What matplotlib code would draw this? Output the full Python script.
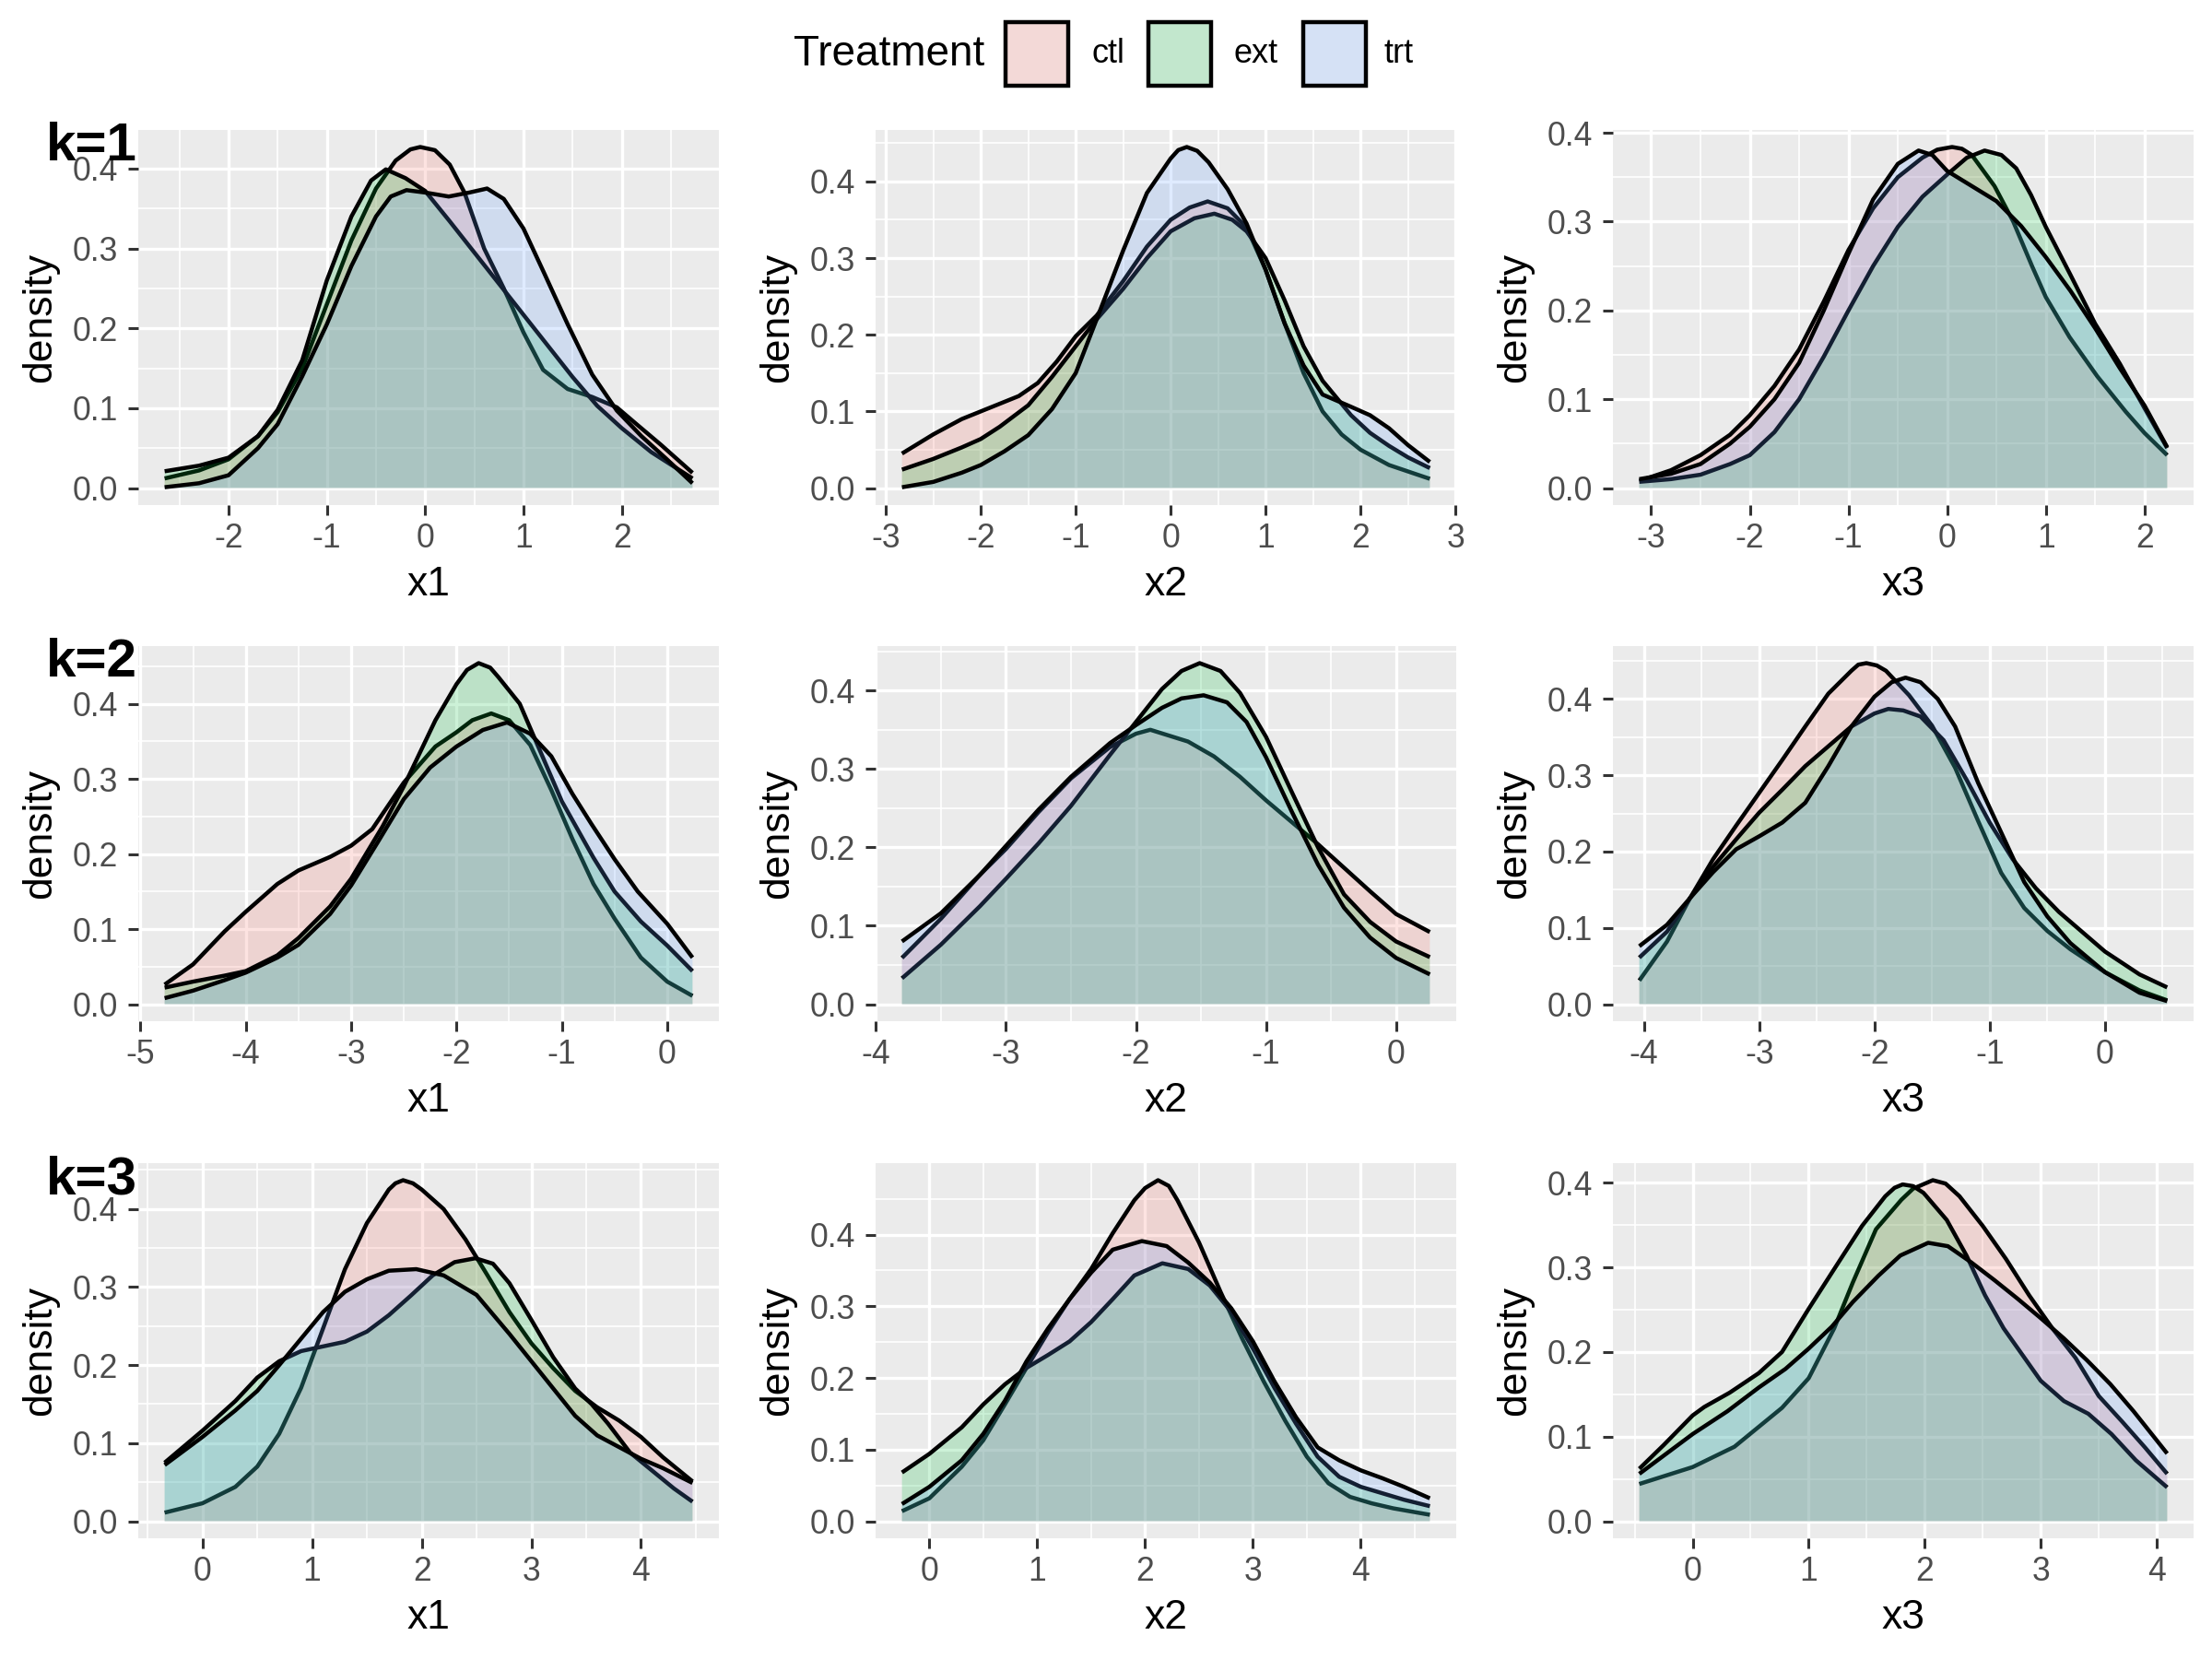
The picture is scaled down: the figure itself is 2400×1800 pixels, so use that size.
import matplotlib
matplotlib.use("Agg")
import matplotlib.pyplot as plt
from matplotlib.patches import Rectangle
from matplotlib.ticker import MultipleLocator, FormatStrFormatter
from matplotlib.colors import to_rgb

plt.rcParams['font.family'] = ['Liberation Sans', 'DejaVu Sans']
plt.rcParams['axes.unicode_minus'] = False

# ---------------- data ----------------
groups = ["ctl", "ext", "trt"]
group_colors = ["#F8766D", "#00BA38", "#619CFF"]
fill_alpha = 0.2
legend_title = "Treatment"
row_labels = ["k=1", "k=2", "k=3"]
col_labels = ["x1", "x2", "x3"]
y_label = "density"

# k=1, x1
k1_x1_ctl_x = [-2.65, -2.3, -2.0, -1.7, -1.5, -1.25, -1.0, -0.75, -0.5, -0.3, -0.15, -0.05, 0.1, 0.25, 0.4, 0.6, 0.8, 1.0, 1.2, 1.45, 1.7, 1.95, 2.15, 2.4, 2.72]
k1_x1_ctl_y = [0.012, 0.022, 0.036, 0.065, 0.095, 0.15, 0.23, 0.31, 0.375, 0.41, 0.424, 0.427, 0.423, 0.405, 0.37, 0.30, 0.25, 0.195, 0.148, 0.124, 0.114, 0.101, 0.080, 0.054, 0.019]
k1_x1_ext_x = [-2.65, -2.3, -2.0, -1.7, -1.5, -1.25, -1.0, -0.75, -0.55, -0.4, -0.2, 0.0, 0.25, 0.5, 0.75, 1.0, 1.25, 1.5, 1.75, 2.0, 2.3, 2.72]
k1_x1_ext_y = [0.021, 0.028, 0.038, 0.065, 0.098, 0.16, 0.26, 0.34, 0.385, 0.399, 0.388, 0.372, 0.334, 0.295, 0.256, 0.217, 0.178, 0.139, 0.103, 0.075, 0.045, 0.012]
k1_x1_trt_x = [-2.65, -2.3, -2.0, -1.7, -1.5, -1.25, -1.0, -0.75, -0.5, -0.35, -0.19, 0.0, 0.24, 0.45, 0.63, 0.8, 1.0, 1.2, 1.45, 1.7, 1.95, 2.2, 2.45, 2.72]
k1_x1_trt_y = [0.001, 0.006, 0.016, 0.05, 0.08, 0.14, 0.205, 0.278, 0.34, 0.365, 0.373, 0.37, 0.365, 0.37, 0.375, 0.362, 0.325, 0.272, 0.205, 0.142, 0.097, 0.065, 0.037, 0.006]

# k=1, x2
k1_x2_ctl_x = [-2.83, -2.5, -2.2, -2.0, -1.8, -1.6, -1.4, -1.2, -1.0, -0.78, -0.5, -0.25, 0.0, 0.2, 0.39, 0.6, 0.8, 1.0, 1.2, 1.4, 1.6, 1.8, 2.0, 2.3, 2.73]
k1_x2_ctl_y = [0.045, 0.07, 0.09, 0.10, 0.11, 0.12, 0.137, 0.165, 0.198, 0.225, 0.27, 0.315, 0.35, 0.366, 0.374, 0.365, 0.34, 0.285, 0.215, 0.15, 0.10, 0.07, 0.05, 0.03, 0.012]
k1_x2_ext_x = [-2.83, -2.5, -2.2, -2.0, -1.8, -1.5, -1.25, -1.0, -0.78, -0.5, -0.25, 0.0, 0.25, 0.46, 0.65, 0.8, 1.0, 1.2, 1.4, 1.6, 1.9, 2.1, 2.3, 2.5, 2.73]
k1_x2_ext_y = [0.024, 0.038, 0.053, 0.064, 0.08, 0.108, 0.145, 0.185, 0.22, 0.26, 0.30, 0.335, 0.352, 0.358, 0.35, 0.335, 0.30, 0.245, 0.185, 0.14, 0.095, 0.072, 0.055, 0.04, 0.026]
k1_x2_trt_x = [-2.83, -2.5, -2.2, -2.0, -1.75, -1.5, -1.25, -1.0, -0.78, -0.5, -0.25, 0.0, 0.08, 0.17, 0.28, 0.4, 0.6, 0.8, 1.0, 1.2, 1.4, 1.6, 1.9, 2.1, 2.3, 2.5, 2.73]
k1_x2_trt_y = [0.001, 0.008, 0.02, 0.03, 0.048, 0.069, 0.103, 0.15, 0.22, 0.31, 0.385, 0.43, 0.441, 0.445, 0.44, 0.425, 0.39, 0.345, 0.285, 0.215, 0.16, 0.122, 0.106, 0.095, 0.078, 0.056, 0.034]

# k=1, x3
k1_x3_ctl_x = [-3.12, -2.8, -2.5, -2.2, -2.0, -1.75, -1.5, -1.25, -1.0, -0.75, -0.5, -0.25, -0.1, 0.05, 0.15, 0.25, 0.48, 0.67, 0.86, 1.0, 1.24, 1.52, 1.81, 2.0, 2.23]
k1_x3_ctl_y = [0.008, 0.02, 0.037, 0.06, 0.082, 0.115, 0.156, 0.21, 0.268, 0.315, 0.35, 0.372, 0.381, 0.384, 0.382, 0.375, 0.34, 0.30, 0.25, 0.215, 0.17, 0.126, 0.086, 0.062, 0.037]
k1_x3_ext_x = [-3.12, -2.8, -2.5, -2.2, -2.0, -1.75, -1.5, -1.25, -1.0, -0.75, -0.5, -0.25, 0.0, 0.2, 0.38, 0.55, 0.7, 0.85, 1.0, 1.25, 1.5, 1.75, 2.0, 2.23]
k1_x3_ext_y = [0.007, 0.01, 0.015, 0.027, 0.037, 0.063, 0.10, 0.148, 0.20, 0.25, 0.294, 0.328, 0.353, 0.372, 0.380, 0.375, 0.36, 0.33, 0.294, 0.24, 0.185, 0.14, 0.09, 0.045]
k1_x3_trt_x = [-3.12, -2.8, -2.5, -2.2, -2.0, -1.75, -1.5, -1.25, -1.0, -0.75, -0.5, -0.29, -0.15, 0.0, 0.25, 0.5, 0.75, 1.0, 1.25, 1.5, 1.75, 2.0, 2.23]
k1_x3_trt_y = [0.01, 0.016, 0.027, 0.05, 0.069, 0.10, 0.141, 0.2, 0.264, 0.325, 0.365, 0.38, 0.375, 0.357, 0.34, 0.323, 0.295, 0.26, 0.222, 0.18, 0.135, 0.093, 0.046]

# k=2, x1
k2_x1_ctl_x = [-4.77, -4.5, -4.2, -4.0, -3.7, -3.5, -3.2, -3.0, -2.8, -2.5, -2.2, -2.0, -1.85, -1.67, -1.5, -1.3, -1.1, -0.9, -0.7, -0.5, -0.25, 0.0, 0.24]
k2_x1_ctl_y = [0.026, 0.053, 0.097, 0.123, 0.16, 0.178, 0.196, 0.211, 0.233, 0.295, 0.343, 0.362, 0.378, 0.387, 0.378, 0.345, 0.285, 0.22, 0.16, 0.114, 0.062, 0.030, 0.011]
k2_x1_ext_x = [-4.77, -4.5, -4.2, -4.0, -3.7, -3.5, -3.2, -3.0, -2.7, -2.5, -2.2, -2.0, -1.9, -1.79, -1.68, -1.6, -1.4, -1.2, -1.0, -0.7, -0.5, -0.25, 0.0, 0.24]
k2_x1_ext_y = [0.022, 0.03, 0.038, 0.044, 0.065, 0.088, 0.13, 0.167, 0.237, 0.29, 0.378, 0.426, 0.445, 0.454, 0.448, 0.435, 0.40, 0.335, 0.27, 0.195, 0.15, 0.11, 0.078, 0.044]
k2_x1_trt_x = [-4.77, -4.5, -4.2, -4.0, -3.7, -3.5, -3.2, -3.0, -2.75, -2.5, -2.25, -2.0, -1.75, -1.52, -1.3, -1.1, -0.9, -0.72, -0.5, -0.28, 0.0, 0.24]
k2_x1_trt_y = [0.008, 0.018, 0.032, 0.042, 0.062, 0.079, 0.12, 0.158, 0.215, 0.273, 0.315, 0.343, 0.365, 0.375, 0.36, 0.33, 0.28, 0.24, 0.193, 0.15, 0.107, 0.062]

# k=2, x2
k2_x2_ctl_x = [-3.8, -3.5, -3.2, -3.0, -2.75, -2.5, -2.2, -2.0, -1.89, -1.6, -1.4, -1.2, -1.0, -0.8, -0.6, -0.4, -0.2, 0.0, 0.26]
k2_x2_ctl_y = [0.059, 0.109, 0.165, 0.198, 0.245, 0.288, 0.328, 0.345, 0.350, 0.335, 0.316, 0.29, 0.26, 0.232, 0.204, 0.174, 0.144, 0.115, 0.092]
k2_x2_ext_x = [-3.8, -3.5, -3.2, -3.0, -2.75, -2.5, -2.2, -2.0, -1.8, -1.65, -1.51, -1.35, -1.2, -1.0, -0.8, -0.6, -0.4, -0.2, 0.0, 0.26]
k2_x2_ext_y = [0.033, 0.076, 0.125, 0.16, 0.205, 0.253, 0.318, 0.36, 0.402, 0.425, 0.435, 0.425, 0.397, 0.341, 0.27, 0.2, 0.14, 0.105, 0.08, 0.060]
k2_x2_trt_x = [-3.8, -3.5, -3.2, -3.0, -2.75, -2.5, -2.2, -2.0, -1.8, -1.65, -1.48, -1.3, -1.15, -1.0, -0.8, -0.6, -0.4, -0.2, 0.0, 0.26]
k2_x2_trt_y = [0.080, 0.116, 0.165, 0.202, 0.248, 0.29, 0.333, 0.356, 0.378, 0.39, 0.394, 0.385, 0.36, 0.315, 0.245, 0.178, 0.123, 0.085, 0.059, 0.038]

# k=2, x3
k2_x3_ctl_x = [-4.04, -3.8, -3.6, -3.4, -3.2, -3.0, -2.8, -2.6, -2.4, -2.2, -2.14, -2.07, -1.98, -1.9, -1.7, -1.5, -1.3, -1.1, -0.9, -0.7, -0.5, -0.3, 0.0, 0.3, 0.54]
k2_x3_ctl_y = [0.031, 0.082, 0.139, 0.19, 0.234, 0.277, 0.32, 0.364, 0.407, 0.437, 0.445, 0.447, 0.444, 0.437, 0.405, 0.365, 0.31, 0.24, 0.172, 0.126, 0.096, 0.072, 0.042, 0.018, 0.005]
k2_x3_ext_x = [-4.04, -3.8, -3.6, -3.4, -3.2, -3.0, -2.8, -2.6, -2.4, -2.2, -2.0, -1.88, -1.75, -1.6, -1.4, -1.2, -1.0, -0.8, -0.6, -0.4, -0.2, 0.0, 0.3, 0.54]
k2_x3_ext_y = [0.061, 0.095, 0.139, 0.18, 0.216, 0.251, 0.281, 0.312, 0.338, 0.364, 0.381, 0.387, 0.385, 0.377, 0.346, 0.294, 0.238, 0.19, 0.152, 0.121, 0.095, 0.069, 0.039, 0.022]
k2_x3_trt_x = [-4.04, -3.8, -3.6, -3.4, -3.2, -3.0, -2.8, -2.6, -2.4, -2.2, -2.0, -1.85, -1.73, -1.6, -1.45, -1.3, -1.1, -0.9, -0.7, -0.5, -0.3, 0.0, 0.3, 0.54]
k2_x3_trt_y = [0.076, 0.104, 0.139, 0.173, 0.203, 0.22, 0.238, 0.264, 0.312, 0.364, 0.403, 0.422, 0.428, 0.422, 0.40, 0.364, 0.29, 0.225, 0.16, 0.115, 0.08, 0.042, 0.015, 0.004]

# k=3, x1
k3_x1_ctl_x = [-0.345, 0.0, 0.3, 0.5, 0.7, 0.9, 1.1, 1.3, 1.5, 1.7, 1.76, 1.83, 1.92, 2.0, 2.2, 2.4, 2.6, 2.8, 3.0, 3.2, 3.4, 3.6, 3.8, 4.0, 4.2, 4.47]
k3_x1_ctl_y = [0.011, 0.023, 0.044, 0.07, 0.112, 0.171, 0.247, 0.323, 0.382, 0.425, 0.433, 0.437, 0.433, 0.425, 0.40, 0.361, 0.315, 0.268, 0.228, 0.196, 0.167, 0.146, 0.129, 0.108, 0.082, 0.051]
k3_x1_ext_x = [-0.345, 0.0, 0.3, 0.5, 0.7, 0.9, 1.1, 1.3, 1.5, 1.7, 1.9, 2.1, 2.3, 2.49, 2.65, 2.8, 3.0, 3.2, 3.4, 3.55, 3.7, 3.9, 4.1, 4.3, 4.47]
k3_x1_ext_y = [0.075, 0.116, 0.154, 0.184, 0.205, 0.218, 0.224, 0.23, 0.243, 0.264, 0.289, 0.315, 0.332, 0.337, 0.33, 0.305, 0.258, 0.21, 0.17, 0.15, 0.125, 0.088, 0.065, 0.042, 0.025]
k3_x1_trt_x = [-0.345, 0.0, 0.3, 0.5, 0.7, 0.9, 1.1, 1.3, 1.5, 1.7, 1.95, 2.2, 2.5, 2.8, 3.0, 3.2, 3.4, 3.6, 3.8, 4.0, 4.2, 4.47]
k3_x1_trt_y = [0.072, 0.108, 0.142, 0.167, 0.20, 0.234, 0.268, 0.294, 0.31, 0.321, 0.323, 0.315, 0.29, 0.24, 0.205, 0.17, 0.135, 0.11, 0.095, 0.08, 0.068, 0.049]

# k=3, x2
k3_x2_ctl_x = [-0.254, 0.0, 0.3, 0.5, 0.7, 0.9, 1.1, 1.3, 1.5, 1.7, 1.9, 2.0, 2.12, 2.22, 2.3, 2.5, 2.7, 2.9, 3.1, 3.3, 3.5, 3.7, 3.9, 4.1, 4.3, 4.64]
k3_x2_ctl_y = [0.014, 0.032, 0.076, 0.113, 0.163, 0.214, 0.264, 0.31, 0.352, 0.402, 0.448, 0.465, 0.476, 0.468, 0.448, 0.389, 0.32, 0.255, 0.195, 0.14, 0.09, 0.053, 0.034, 0.025, 0.018, 0.009]
k3_x2_ext_x = [-0.254, 0.0, 0.3, 0.5, 0.7, 0.9, 1.1, 1.3, 1.5, 1.7, 1.9, 2.16, 2.4, 2.6, 2.8, 3.0, 3.2, 3.4, 3.6, 3.8, 4.0, 4.2, 4.4, 4.64]
k3_x2_ext_y = [0.068, 0.094, 0.131, 0.163, 0.191, 0.214, 0.232, 0.251, 0.278, 0.31, 0.343, 0.36, 0.352, 0.329, 0.292, 0.241, 0.186, 0.136, 0.09, 0.062, 0.048, 0.039, 0.03, 0.021]
k3_x2_trt_x = [-0.254, 0.0, 0.3, 0.5, 0.7, 0.9, 1.1, 1.3, 1.5, 1.7, 1.97, 2.2, 2.4, 2.6, 2.8, 3.0, 3.2, 3.4, 3.6, 3.8, 4.0, 4.2, 4.4, 4.64]
k3_x2_trt_y = [0.024, 0.048, 0.085, 0.122, 0.168, 0.223, 0.269, 0.31, 0.347, 0.379, 0.391, 0.384, 0.361, 0.333, 0.297, 0.251, 0.195, 0.145, 0.103, 0.085, 0.071, 0.06, 0.048, 0.032]

# k=3, x3
k3_x3_ctl_x = [-0.46, 0.0, 0.36, 0.77, 1.0, 1.22, 1.38, 1.58, 1.8, 1.9, 2.07, 2.18, 2.3, 2.5, 2.7, 2.9, 3.1, 3.3, 3.5, 3.7, 3.9, 4.09]
k3_x3_ctl_y = [0.044, 0.064, 0.088, 0.134, 0.169, 0.228, 0.282, 0.345, 0.38, 0.393, 0.403, 0.399, 0.384, 0.349, 0.31, 0.267, 0.228, 0.193, 0.148, 0.118, 0.087, 0.056]
k3_x3_ext_x = [-0.46, -0.25, 0.0, 0.1, 0.32, 0.57, 0.77, 1.0, 1.22, 1.46, 1.66, 1.74, 1.81, 1.9, 1.99, 2.19, 2.36, 2.52, 2.68, 2.84, 3.0, 3.2, 3.41, 3.61, 3.82, 4.09]
k3_x3_ext_y = [0.062, 0.09, 0.125, 0.135, 0.152, 0.175, 0.2, 0.251, 0.298, 0.349, 0.384, 0.394, 0.398, 0.396, 0.388, 0.356, 0.314, 0.267, 0.228, 0.197, 0.166, 0.142, 0.127, 0.103, 0.072, 0.040]
k3_x3_trt_x = [-0.46, 0.0, 0.3, 0.57, 0.8, 1.0, 1.2, 1.38, 1.6, 1.79, 2.03, 2.2, 2.4, 2.6, 2.8, 3.0, 3.2, 3.4, 3.6, 3.8, 4.09]
k3_x3_trt_y = [0.056, 0.103, 0.13, 0.158, 0.18, 0.204, 0.23, 0.259, 0.29, 0.314, 0.329, 0.325, 0.306, 0.285, 0.263, 0.24, 0.216, 0.19, 0.162, 0.13, 0.08]

panels = [
    [[(k1_x1_ctl_x, k1_x1_ctl_y), (k1_x1_ext_x, k1_x1_ext_y), (k1_x1_trt_x, k1_x1_trt_y)],
     [(k1_x2_ctl_x, k1_x2_ctl_y), (k1_x2_ext_x, k1_x2_ext_y), (k1_x2_trt_x, k1_x2_trt_y)],
     [(k1_x3_ctl_x, k1_x3_ctl_y), (k1_x3_ext_x, k1_x3_ext_y), (k1_x3_trt_x, k1_x3_trt_y)]],
    [[(k2_x1_ctl_x, k2_x1_ctl_y), (k2_x1_ext_x, k2_x1_ext_y), (k2_x1_trt_x, k2_x1_trt_y)],
     [(k2_x2_ctl_x, k2_x2_ctl_y), (k2_x2_ext_x, k2_x2_ext_y), (k2_x2_trt_x, k2_x2_trt_y)],
     [(k2_x3_ctl_x, k2_x3_ctl_y), (k2_x3_ext_x, k2_x3_ext_y), (k2_x3_trt_x, k2_x3_trt_y)]],
    [[(k3_x1_ctl_x, k3_x1_ctl_y), (k3_x1_ext_x, k3_x1_ext_y), (k3_x1_trt_x, k3_x1_trt_y)],
     [(k3_x2_ctl_x, k3_x2_ctl_y), (k3_x2_ext_x, k3_x2_ext_y), (k3_x2_trt_x, k3_x2_trt_y)],
     [(k3_x3_ctl_x, k3_x3_ctl_y), (k3_x3_ext_x, k3_x3_ext_y), (k3_x3_trt_x, k3_x3_trt_y)]],
]

# ---------------- layout ----------------
W, H = 2400, 1800
fig = plt.figure(figsize=(12, 9), dpi=200)
fig.patch.set_facecolor("white")

col_left_px = [150, 950, 1750]
row_top_px = [141, 701, 1262]
pw_px, ph_px = 630, 407

panel_bg = "#EBEBEB"
tick_col = "#333333"
ticklab_col = "#4D4D4D"

for r in range(3):
    for c in range(3):
        left = col_left_px[c] / W
        bottom = 1 - (row_top_px[r] + ph_px) / H
        ax = fig.add_axes([left, bottom, pw_px / W, ph_px / H])
        ax.set_facecolor(panel_bg)
        for s in ax.spines.values():
            s.set_visible(False)
        curves = panels[r][c]
        xmin = min(min(cx) for cx, cy in curves)
        xmax = max(max(cx) for cx, cy in curves)
        ymax = max(max(cy) for cx, cy in curves)
        xr = xmax - xmin
        ax.set_xlim(xmin - 0.05 * xr, xmax + 0.05 * xr)
        ax.set_ylim(-0.05 * ymax, ymax * 1.05)
        ax.xaxis.set_major_locator(MultipleLocator(1))
        ax.xaxis.set_minor_locator(MultipleLocator(0.5))
        ax.yaxis.set_major_locator(MultipleLocator(0.1))
        ax.yaxis.set_minor_locator(MultipleLocator(0.05))
        ax.xaxis.set_major_formatter(FormatStrFormatter('%d'))
        ax.yaxis.set_major_formatter(FormatStrFormatter('%.1f'))
        ax.set_axisbelow(True)
        ax.grid(which='major', color='white', linewidth=1.2)
        ax.grid(which='minor', color='white', linewidth=0.6)
        ax.tick_params(which='major', direction='out', length=4, width=1.1,
                       color=tick_col, labelcolor=ticklab_col, labelsize=12.8)
        ax.tick_params(axis='x', which='major', pad=3)
        ax.tick_params(axis='y', which='major', pad=4)
        ax.tick_params(which='minor', length=0)
        z = 2
        for (cx, cy), col in zip(curves, group_colors):
            ax.fill_between(cx, 0, cy, facecolor=col, alpha=fill_alpha,
                            linewidth=0, zorder=z)
            ax.plot(cx, cy, color='black', linewidth=1.6, zorder=z + 1,
                    solid_capstyle='butt', solid_joinstyle='round')
            z += 2
        ax.set_xlabel(col_labels[c], fontsize=16, color='black', labelpad=4)
        ax.set_ylabel(y_label, fontsize=16, color='black', labelpad=5)

    fig.text(149 / W, 1 - (row_top_px[r] - 9) / H, row_labels[r],
             ha='right', va='top', fontsize=21, fontweight='bold', color='black')

# ---------------- legend ----------------
leg_cy = 1 - 59 / H
fig.text(861 / W, leg_cy, legend_title, ha='left', va='center',
         fontsize=16.5, color='black')
key_x_px = [1091, 1246, 1414]
lab_x_px = [1185, 1338, 1502]
key_w_px, key_h_px = 68, 69
key_bg = to_rgb("#F2F2F2")
for g, col, kx, lx in zip(groups, group_colors, key_x_px, lab_x_px):
    rgb = to_rgb(col)
    blended = tuple(fill_alpha * a + (1 - fill_alpha) * b for a, b in zip(rgb, key_bg))
    rect = Rectangle((kx / W, 1 - (24 + key_h_px) / H), key_w_px / W, key_h_px / H,
                     transform=fig.transFigure, facecolor=blended,
                     edgecolor='black', linewidth=1.6)
    fig.add_artist(rect)
    fig.text(lx / W, leg_cy, g, ha='left', va='center', fontsize=13, color='black')

fig.savefig("out.png", dpi=200, facecolor="white")
